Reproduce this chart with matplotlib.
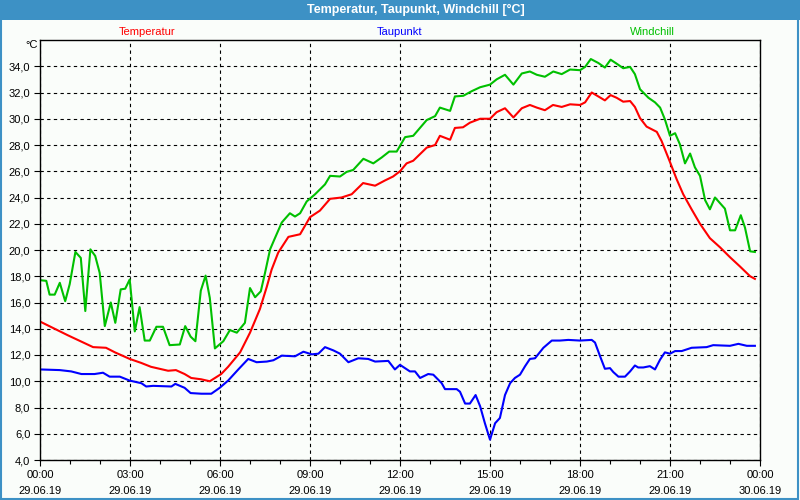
import matplotlib
matplotlib.use('Agg')
import matplotlib.pyplot as plt
from matplotlib.patches import Rectangle
from matplotlib.ticker import MultipleLocator, FuncFormatter

# time in hours since 29.06.19 00:00
temp_h = [0.0, 0.93, 1.77, 2.2, 2.5, 2.99, 3.37, 3.7, 4.27, 4.53, 4.82, 5.04, 5.37, 5.66, 6.04,
          6.27, 6.67, 7.0, 7.33, 7.56, 7.72, 7.94, 8.28, 8.67, 9.0, 9.33, 9.67, 10.05, 10.39,
          10.77, 11.17, 11.5, 11.77, 12.0, 12.22, 12.44, 12.89, 13.17, 13.33, 13.67, 13.83,
          14.1, 14.33, 14.67, 15.0, 15.22, 15.5, 15.78, 16.06, 16.33, 16.56, 16.83, 17.1,
          17.39, 17.67, 18.0, 18.17, 18.39, 18.61, 18.83, 19.02, 19.22, 19.44, 19.67, 19.83,
          20.0, 20.22, 20.56, 20.72, 21.0, 21.22, 21.44, 21.72, 22.0, 22.33, 22.67, 23.0,
          23.33, 23.67, 23.83]
temp = [14.55, 13.5, 12.6, 12.55, 12.2, 11.7, 11.4, 11.1, 10.8, 10.85, 10.55, 10.25, 10.15,
        10.0, 10.55, 11.1, 12.2, 13.7, 15.5, 17.2, 18.5, 19.8, 21.0, 21.2, 22.5, 23.0, 23.9,
        24.0, 24.25, 25.1, 24.9, 25.3, 25.6, 26.0, 26.6, 26.8, 27.8, 28.0, 28.7, 28.4, 29.3,
        29.35, 29.7, 30.0, 30.0, 30.5, 30.8, 30.1, 30.8, 31.05, 30.85, 30.65, 31.05, 30.9,
        31.1, 31.05, 31.25, 32.0, 31.7, 31.4, 31.8, 31.6, 31.3, 31.35, 30.9, 30.05, 29.4,
        29.0, 28.3, 26.7, 25.4, 24.25, 23.1, 22.0, 20.9, 20.2, 19.45, 18.75, 18.0, 17.8]

dew_h = [0.0, 0.66, 1.04, 1.38, 1.82, 2.1, 2.32, 2.66, 2.99, 3.38, 3.54, 3.77, 4.38, 4.51,
         4.82, 5.02, 5.38, 5.71, 5.99, 6.27, 6.61, 6.94, 7.22, 7.56, 7.78, 8.06, 8.5, 8.78,
         9.06, 9.28, 9.5, 9.78, 10.0, 10.28, 10.61, 10.94, 11.17, 11.61, 11.83, 12.0, 12.33,
         12.5, 12.67, 12.94, 13.11, 13.39, 13.5, 13.89, 14.0, 14.17, 14.33, 14.52, 14.67,
         14.83, 15.0, 15.17, 15.33, 15.5, 15.67, 15.83, 16.0, 16.17, 16.33, 16.5, 16.78,
         17.06, 17.33, 17.61, 18.0, 18.39, 18.5, 18.67, 18.83, 19.0, 19.11, 19.28, 19.5,
         19.67, 19.83, 19.94, 20.11, 20.33, 20.5, 20.67, 20.83, 21.0, 21.17, 21.39, 21.72,
         22.22, 22.44, 23.0, 23.28, 23.56, 23.83]
dew = [10.9, 10.85, 10.75, 10.55, 10.55, 10.65, 10.35, 10.35, 10.05, 9.85, 9.6, 9.65, 9.6,
       9.8, 9.5, 9.1, 9.05, 9.05, 9.5, 10.05, 10.9, 11.7, 11.45, 11.5, 11.6, 11.95, 11.9,
       12.25, 12.05, 12.1, 12.6, 12.35, 12.1, 11.45, 11.75, 11.7, 11.5, 11.55, 10.9, 11.25,
       10.75, 10.75, 10.25, 10.55, 10.5, 9.85, 9.4, 9.4, 9.2, 8.3, 8.3, 8.95, 8.1, 6.8, 5.55,
       6.8, 7.2, 8.95, 9.85, 10.25, 10.5, 11.15, 11.7, 11.75, 12.55, 13.1, 13.1, 13.15, 13.1,
       13.15, 12.95, 11.9, 10.95, 11.0, 10.7, 10.35, 10.35, 10.75, 11.2, 11.05, 11.05, 11.15,
       10.9, 11.65, 12.2, 12.1, 12.3, 12.3, 12.55, 12.6, 12.75, 12.7, 12.85, 12.7, 12.7]

chill_h = [0.0, 0.21, 0.32, 0.49, 0.66, 0.84, 0.99, 1.18, 1.36, 1.51, 1.68, 1.84, 1.99, 2.16,
           2.36, 2.51, 2.69, 2.84, 2.99, 3.16, 3.32, 3.49, 3.66, 3.88, 4.1, 4.32, 4.66, 4.84,
           5.02, 5.18, 5.36, 5.52, 5.66, 5.83, 6.11, 6.33, 6.56, 6.83, 7.0, 7.17, 7.36, 7.5,
           7.67, 7.83, 8.06, 8.33, 8.5, 8.67, 8.89, 9.17, 9.5, 9.67, 10.0, 10.22, 10.44, 10.78,
           11.11, 11.39, 11.64, 11.89, 12.17, 12.44, 12.89, 13.17, 13.33, 13.67, 13.83, 14.11,
           14.39, 14.67, 15.0, 15.22, 15.5, 15.78, 16.06, 16.33, 16.56, 16.83, 17.11, 17.39,
           17.67, 18.0, 18.17, 18.36, 18.61, 18.83, 19.02, 19.22, 19.44, 19.67, 19.83, 20.0,
           20.28, 20.5, 20.67, 20.83, 21.0, 21.17, 21.33, 21.5, 21.67, 21.83, 22.0, 22.17,
           22.33, 22.5, 22.83, 23.0, 23.17, 23.36, 23.5, 23.67, 23.83]
chill = [17.7, 17.65, 16.6, 16.6, 17.5, 16.1, 17.4, 19.85, 19.4, 15.35, 20.05, 19.55, 18.25,
         14.2, 16.0, 14.45, 17.0, 17.05, 17.75, 13.8, 15.65, 13.1, 13.1, 14.15, 14.15, 12.75,
         12.8, 14.2, 13.4, 13.05, 16.9, 18.05, 16.35, 12.5, 13.05, 13.9, 13.7, 14.45, 17.1,
         16.4, 16.85, 18.25, 20.05, 20.9, 22.1, 22.8, 22.55, 22.8, 23.7, 24.25, 25.0, 25.65,
         25.6, 25.95, 26.1, 26.95, 26.6, 27.05, 27.5, 27.5, 28.6, 28.7, 29.9, 30.2, 30.85,
         30.6, 31.7, 31.75, 32.1, 32.4, 32.6, 33.0, 33.35, 32.6, 33.45, 33.6, 33.35, 33.2,
         33.6, 33.4, 33.75, 33.7, 33.95, 34.55, 34.25, 33.9, 34.5, 34.2, 33.85, 33.95, 33.4,
         32.25, 31.6, 31.25, 30.85, 29.95, 28.7, 28.9, 28.05, 26.6, 27.35, 26.3, 25.65, 23.8,
         23.1, 24.0, 23.15, 21.5, 21.5, 22.65, 21.7, 19.9, 19.85]

x_labels = ['00:00\n29.06.19', '03:00\n29.06.19', '06:00\n29.06.19', '09:00\n29.06.19',
            '12:00\n29.06.19', '15:00\n29.06.19', '18:00\n29.06.19', '21:00\n29.06.19',
            '00:00\n30.06.19']

bg = '#FAFDFA'
bar_blue = '#3D91C5'
plt.rcParams['font.family'] = ['Liberation Sans', 'DejaVu Sans']

fig = plt.figure(figsize=(8, 5), dpi=100, facecolor=bg)
ax = fig.add_axes([0.05, 0.08, 0.90, 0.84])
ax.set_facecolor(bg)

# title bar and outer frame
fig.patches.append(Rectangle((0, 0.96), 1, 0.04, transform=fig.transFigure,
                             facecolor=bar_blue, edgecolor='none'))
fig.patches.append(Rectangle((0.001, 0.002), 0.997, 0.996, transform=fig.transFigure,
                             facecolor='none', edgecolor=bar_blue, linewidth=1.5))
fig.text(0.52, 0.98, 'Temperatur, Taupunkt, Windchill [°C]', color='white',
         fontsize=9, fontweight='bold', ha='center', va='center')

fig.text(0.184, 0.936, 'Temperatur', color='#FF0000', fontsize=8, ha='center', va='center')
fig.text(0.499, 0.936, 'Taupunkt', color='#0000FF', fontsize=8, ha='center', va='center')
fig.text(0.815, 0.936, 'Windchill', color='#00C000', fontsize=8, ha='center', va='center')
fig.text(0.04, 0.91, '°C', fontsize=8, ha='center', va='center')

ax.plot(temp_h, temp, color='#FF0000', linewidth=1.5)
ax.plot(dew_h, dew, color='#0000FF', linewidth=1.5)
ax.plot(chill_h, chill, color='#00C000', linewidth=1.5)

ax.set_xlim(0, 24)
ax.set_ylim(4, 36)
ax.set_xticks(range(0, 25, 3))
ax.set_xticklabels(x_labels, fontsize=8, linespacing=1.8)
ax.xaxis.set_minor_locator(MultipleLocator(1))
ax.set_yticks(range(4, 35, 2))
ax.yaxis.set_major_formatter(FuncFormatter(lambda v, p: f'{v:.1f}'.replace('.', ',')))
ax.tick_params(axis='both', labelsize=8, length=4, width=0.8, direction='out', pad=3)
ax.tick_params(axis='x', which='minor', length=3, width=0.8)
ax.grid(True, which='major', color='black', linestyle=(0, (3, 3)), linewidth=0.8)
for s in ax.spines.values():
    s.set_linewidth(1.0)

fig.savefig('out.png', dpi=100, facecolor=bg)
